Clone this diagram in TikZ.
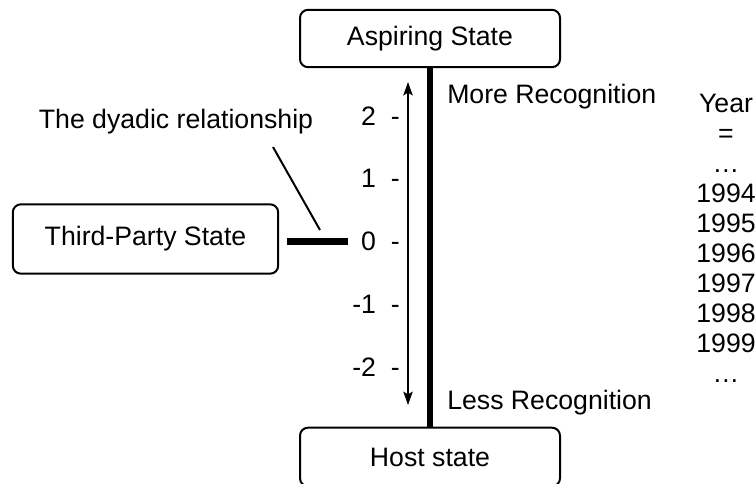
\documentclass[tikz,border=0pt]{standalone}
\usepackage{fontspec}
\setmainfont{Liberation Sans}
\usetikzlibrary{arrows.meta, positioning}

\begin{document}
\begin{tikzpicture}[
  x=0.75pt, y=-0.75pt,
  font=\fontsize{20}{22.5}\selectfont,
  statebox/.style={draw, line width=1.5pt, rounded corners=6pt, minimum width=195pt, minimum height=43pt, align=center},
  ticklbl/.style={inner sep=0pt, anchor=east},
  note/.style={inner sep=0pt},
  axis/.style={line width=5pt},
  arr/.style={{Stealth[length=10pt,width=7pt,inset=2pt]}-{Stealth[length=10pt,width=7pt,inset=2pt]}, line width=1.4pt},
  ptr/.style={line width=1.5pt}
]
\useasboundingbox (0,0) rectangle (756,483);

\node[statebox] (aspiring) at (430,38.5) {Aspiring State};
\node[statebox, minimum height=44pt] (host) at (430,457) {Host state};
\node[statebox, minimum width=199pt, minimum height=52pt] (third) at (145.5,239) {Third-Party State};

% scale of recognition
\foreach \v [count=\i] in {2,1,0,-1,-2}
  \node[ticklbl] (tick\i) at (400,{116+62.75*(\i-1)}) {\v\ \ -};

\coordinate (arrtop) at (408,82);
\coordinate (arrbot) at (408,405);
\draw[arr] (arrtop) -- (arrbot);

\draw[axis] (aspiring.south) -- (host.north);
\draw[axis] ([xshift=6pt]third.east |- tick3.west) -- ([xshift=-10pt]tick3.west);

\node[note, anchor=west] (more) at (447,97) {More Recognition};
\node[note, anchor=west] (less) at (447,403) {Less Recognition};

\node[note] (dyad) at (176,122) {The dyadic relationship};
\coordinate (ptrtop) at (273,147);
\coordinate (ptrbot) at (320,230);
\draw[ptr] (ptrtop) -- (ptrbot);

\node[note, align=center] (years) at (726,238) {Year\\=\\…\\1994\\1995\\1996\\1997\\1998\\1999\\…};

\end{tikzpicture}
\end{document}
